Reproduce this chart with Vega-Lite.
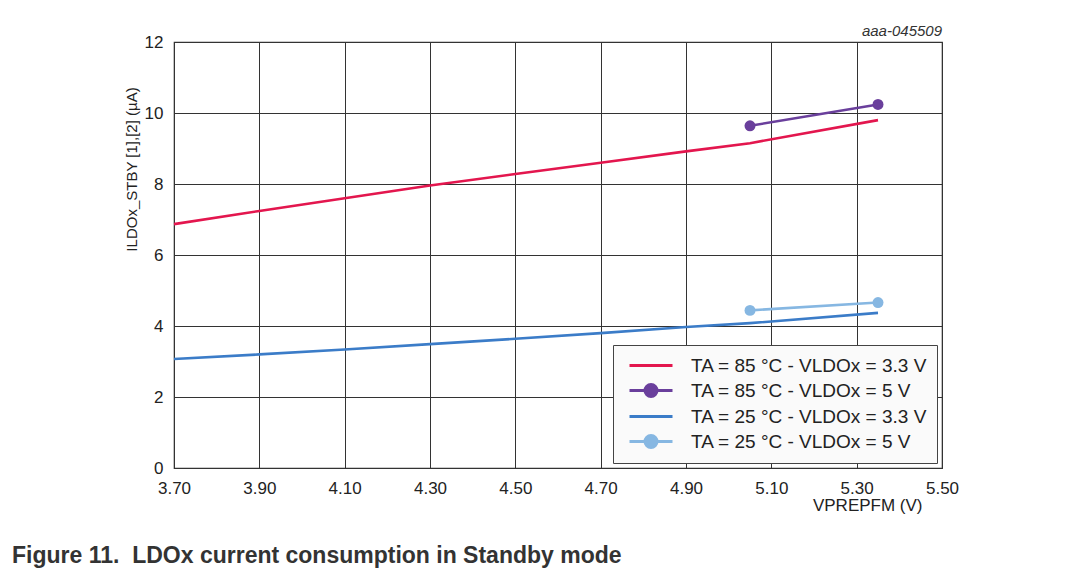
{
  "$schema": "https://vega.github.io/schema/vega-lite/v6.json",
  "width": 768,
  "height": 426,
  "autosize": {"type": "none"},
  "padding": {"left": 174, "top": 42, "right": 124, "bottom": 100},
  "background": "white",
  "config": {
    "font": "Liberation Sans",
    "view": {"stroke": "#333", "strokeWidth": 1.2}
  },
  "title": {
    "text": "Figure 11.\u00a0 LDOx current consumption in Standby mode",
    "orient": "bottom",
    "anchor": "start",
    "frame": "group",
    "dx": -162,
    "offset": 32,
    "fontSize": 23,
    "fontWeight": "bold",
    "color": "#333",
    "font": "Liberation Sans"
  },
  "data": {
    "values": [
      {"v": 3.70, "i": 6.87, "series": "TA = 85 °C - VLDOx = 3.3 V"},
      {"v": 3.90, "i": 7.24, "series": "TA = 85 °C - VLDOx = 3.3 V"},
      {"v": 4.10, "i": 7.60, "series": "TA = 85 °C - VLDOx = 3.3 V"},
      {"v": 4.30, "i": 7.96, "series": "TA = 85 °C - VLDOx = 3.3 V"},
      {"v": 4.50, "i": 8.28, "series": "TA = 85 °C - VLDOx = 3.3 V"},
      {"v": 4.70, "i": 8.60, "series": "TA = 85 °C - VLDOx = 3.3 V"},
      {"v": 4.90, "i": 8.92, "series": "TA = 85 °C - VLDOx = 3.3 V"},
      {"v": 5.05, "i": 9.15, "series": "TA = 85 °C - VLDOx = 3.3 V"},
      {"v": 5.35, "i": 9.80, "series": "TA = 85 °C - VLDOx = 3.3 V"},
      {"v": 5.05, "i": 9.64, "series": "TA = 85 °C - VLDOx = 5 V"},
      {"v": 5.35, "i": 10.24, "series": "TA = 85 °C - VLDOx = 5 V"},
      {"v": 3.70, "i": 3.07, "series": "TA = 25 °C - VLDOx = 3.3 V"},
      {"v": 3.90, "i": 3.20, "series": "TA = 25 °C - VLDOx = 3.3 V"},
      {"v": 4.10, "i": 3.34, "series": "TA = 25 °C - VLDOx = 3.3 V"},
      {"v": 4.30, "i": 3.49, "series": "TA = 25 °C - VLDOx = 3.3 V"},
      {"v": 4.50, "i": 3.64, "series": "TA = 25 °C - VLDOx = 3.3 V"},
      {"v": 4.70, "i": 3.80, "series": "TA = 25 °C - VLDOx = 3.3 V"},
      {"v": 4.90, "i": 3.97, "series": "TA = 25 °C - VLDOx = 3.3 V"},
      {"v": 5.05, "i": 4.08, "series": "TA = 25 °C - VLDOx = 3.3 V"},
      {"v": 5.35, "i": 4.37, "series": "TA = 25 °C - VLDOx = 3.3 V"},
      {"v": 5.05, "i": 4.44, "series": "TA = 25 °C - VLDOx = 5 V"},
      {"v": 5.35, "i": 4.66, "series": "TA = 25 °C - VLDOx = 5 V"}
    ]
  },
  "encoding": {
    "x": {
      "field": "v",
      "type": "quantitative",
      "scale": {"domain": [3.7, 5.5], "nice": false, "zero": false},
      "axis": {
        "values": [3.7, 3.9, 4.1, 4.3, 4.5, 4.7, 4.9, 5.1, 5.3, 5.5],
        "format": ".2f",
        "ticks": false,
        "domain": false,
        "grid": true,
        "gridColor": "#333",
        "gridOpacity": 1,
        "gridWidth": 1,
        "labelFlush": false,
        "labelOverlap": false,
        "labelFontSize": 17,
        "labelColor": "#222",
        "labelPadding": 12,
        "title": "VPREPFM (V)",
        "titleFontSize": 17,
        "titleFontWeight": "normal",
        "titleColor": "#222",
        "titleAlign": "right",
        "titleAnchor": "end",
        "titleX": 748,
        "titleY": 29,
        "titleBaseline": "top"
      }
    },
    "y": {
      "field": "i",
      "type": "quantitative",
      "scale": {"domain": [0, 12], "nice": false},
      "axis": {
        "values": [0, 2, 4, 6, 8, 10, 12],
        "ticks": false,
        "domain": false,
        "grid": true,
        "gridColor": "#333",
        "gridOpacity": 1,
        "gridWidth": 1,
        "labelFontSize": 17,
        "labelColor": "#222",
        "labelPadding": 11,
        "title": "ILDOx_STBY [1],[2] (µA)",
        "titleFontSize": 15,
        "titleFontWeight": "normal",
        "titleColor": "#222",
        "titleAngle": -90,
        "titleAlign": "center",
        "titleBaseline": "middle",
        "titleX": -43,
        "titleY": 127
      }
    },
    "color": {
      "field": "series",
      "type": "nominal",
      "scale": {
        "domain": ["TA = 85 °C - VLDOx = 3.3 V", "TA = 85 °C - VLDOx = 5 V", "TA = 25 °C - VLDOx = 3.3 V", "TA = 25 °C - VLDOx = 5 V"],
        "range": ["#e3164e", "#6a3f9c", "#3b7cc8", "#86b7e2"]
      },
      "legend": {
        "title": null,
        "orient": "bottom-right",
        "offset": 5,
        "padding": 9,
        "fillColor": "#fafafa",
        "strokeColor": "#444",
        "labelFontSize": 19,
        "labelColor": "#222",
        "labelFont": "Liberation Sans",
        "labelOffset": 46,
        "labelLimit": 400,
        "rowPadding": 2,
        "symbolSize": 400,
        "symbolStrokeWidth": 3,
        "symbolType": "M-0.4,0H3.9",
        "encode": {
          "symbols": {
            "update": {
              "shape": {"signal": "indexof(datum.value, '= 5 V') >= 0 ? 'M-0.4,0H3.9M2.35,0A0.6,0.6,0,1,1,1.15,0A0.6,0.6,0,1,1,2.35,0Z' : 'M-0.4,0H3.9'"},
              "fill": {"scale": "color", "field": "value"},
              "stroke": {"scale": "color", "field": "value"},
              "strokeWidth": {"value": 3},
              "opacity": {"value": 1},
              "fillOpacity": {"value": 1}
            }
          }
        }
      }
    }
  },
  "layer": [
    {
      "mark": {"type": "line", "strokeWidth": 2.6, "clip": false}
    },
    {
      "transform": [{"filter": "indexof(datum.series, '= 5 V') >= 0"}],
      "mark": {"type": "point", "filled": true, "size": 120, "opacity": 1}
    },
    {
      "transform": [{"filter": "datum.v == 5.35 && datum.i == 9.8"}],
      "mark": {"type": "text", "align": "right", "baseline": "bottom", "dy": -3, "fontSize": 15, "fontStyle": "italic", "color": "#333"},
      "encoding": {
        "x": {"datum": 5.5},
        "y": {"datum": 12},
        "text": {"value": "aaa-045509"},
        "color": {"value": "#333"}
      }
    }
  ]
}
